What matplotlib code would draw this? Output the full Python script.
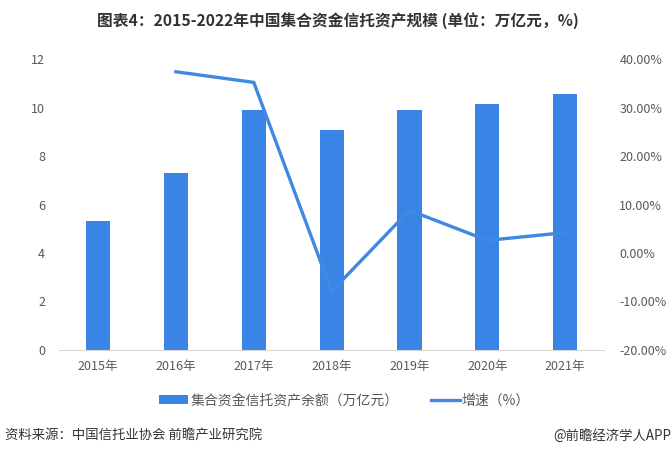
import matplotlib
matplotlib.use("Agg")
import matplotlib.pyplot as plt
from matplotlib.ticker import FuncFormatter

plt.rcParams['font.family'] = ['Noto Sans CJK SC', 'DejaVu Sans']

years = ['2015年', '2016年', '2017年', '2018年', '2019年', '2020年', '2021年']
balance = [5.32, 7.30, 9.90, 9.07, 9.90, 10.14, 10.56]
growth = [None, 37.4, 35.2, -7.9, 8.8, 2.6, 4.2]

bar_color = '#3a84e6'
line_color = '#4088e2'
txt = '#595959'

fig = plt.figure(figsize=(6.72, 4.55), dpi=100)
ax = fig.add_axes([0.088, 0.231, 0.811, 0.639])
ax2 = ax.twinx()

x = list(range(len(years)))
ax.bar(x, balance, width=0.31, color=bar_color, zorder=2, label='集合资金信托资产余额（万亿元）')
gx = [i for i, g in zip(x, growth) if g is not None]
gy = [g for g in growth if g is not None]
ax2.plot(gx, gy, color=line_color, lw=2.4, zorder=3, label='增速（%）')

ax.set_xlim(-0.5, len(years) - 0.5)
ax.set_ylim(0, 12)
ax.set_yticks(range(0, 13, 2))
ax2.set_ylim(-20, 40)
ax2.set_yticks(range(-20, 41, 10))
ax2.yaxis.set_major_formatter(FuncFormatter(lambda v, p: f'{v:.2f}%'))

ax.set_xticks(x)
ax.set_xticklabels(years)
for a in (ax, ax2):
    for s in ('top', 'left', 'right', 'bottom'):
        a.spines[s].set_visible(False)
    a.tick_params(length=0, labelsize=9, colors=txt)
ax.spines['bottom'].set_visible(True)
ax.spines['bottom'].set_color('#d9d9d9')
ax.tick_params(axis='x', pad=7)
ax.tick_params(axis='y', pad=10)
ax2.tick_params(axis='y', pad=11)
ax.set_zorder(ax2.get_zorder() - 1)
ax.patch.set_visible(False)

fig.text(0.503, 0.955, '图表4：2015-2022年中国集合资金信托资产规模 (单位：万亿元，%)',
         ha='center', va='center', fontsize=11.3, fontweight='bold', color='#333333')

h1, l1 = ax.get_legend_handles_labels()
h2, l2 = ax2.get_legend_handles_labels()
fig.legend(h1 + h2, l1 + l2, loc='center', bbox_to_anchor=(0.513, 0.12), ncol=2,
           frameon=False, fontsize=10, labelcolor=txt, handlelength=2.1,
           handletextpad=0.15, columnspacing=2.3)

fig.text(0.008, 0.043, '资料来源：中国信托业协会 前瞻产业研究院', ha='left', va='center',
         fontsize=9.6, color='#333333')
fig.text(0.999, 0.043, '@前瞻经济学人APP', ha='right', va='center',
         fontsize=9.6, color='#333333')

fig.savefig('out.png', dpi=100)
